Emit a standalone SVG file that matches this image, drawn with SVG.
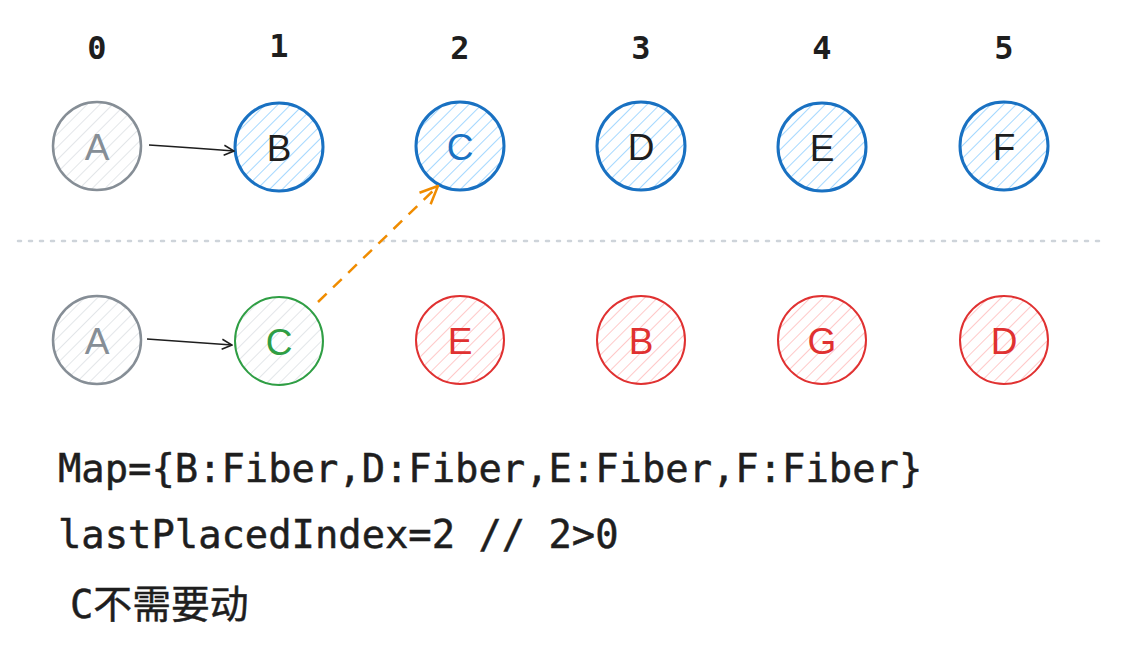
<svg xmlns="http://www.w3.org/2000/svg" width="1122" height="647" viewBox="0 0 1122 647">
<defs>
<pattern id="hb" patternUnits="userSpaceOnUse" width="9" height="9" patternTransform="rotate(45)"><line x1="0" y1="0" x2="0" y2="9" stroke="#a5d8ff" stroke-width="2"/></pattern>
<pattern id="hr" patternUnits="userSpaceOnUse" width="9" height="9" patternTransform="rotate(45)"><line x1="0" y1="0" x2="0" y2="9" stroke="#ffc9c9" stroke-width="2"/></pattern>
<pattern id="hg" patternUnits="userSpaceOnUse" width="9" height="9" patternTransform="rotate(45)"><line x1="0" y1="0" x2="0" y2="9" stroke="#e3e6e9" stroke-width="2"/></pattern>
<marker id="ab" viewBox="0 0 12 12" refX="11" refY="6" markerWidth="12" markerHeight="12" markerUnits="userSpaceOnUse" orient="auto"><path d="M1,1 L11,6 L1,11" fill="none" stroke="#1e1e1e" stroke-width="1.5"/></marker>
<marker id="ao" viewBox="0 0 20 20" refX="19" refY="10" markerWidth="20" markerHeight="20" markerUnits="userSpaceOnUse" orient="auto"><path d="M1,2 L19,10 L1,18" fill="none" stroke="#f08c00" stroke-width="2.5"/></marker>
</defs>
<style>
.idx{font-family:"DejaVu Sans Mono",monospace;font-weight:bold;font-size:32px;fill:#1e1e1e;text-anchor:middle}
.lbl{font-family:"Liberation Sans",Arial,sans-serif;font-size:37px;text-anchor:middle}
.code{font-family:"DejaVu Sans Mono","Noto Sans CJK SC",monospace;font-size:38.8px;fill:#1e1e1e;stroke:#1e1e1e;stroke-width:0.5}
.blue{fill:url(#hb);stroke:#1971c2;stroke-width:3}
.red{fill:url(#hr);stroke:#e03131;stroke-width:2}
.gray{fill:url(#hg);stroke:#868e96;stroke-width:2.5}
.green{fill:url(#hg);stroke:#2f9e44;stroke-width:2}
</style>
<rect width="1122" height="647" fill="#ffffff"/>
<g id="indices">
<text class="idx" x="97" y="59">0</text>
<text class="idx" x="279" y="57">1</text>
<text class="idx" x="460" y="59">2</text>
<text class="idx" x="641" y="59">3</text>
<text class="idx" x="822" y="59">4</text>
<text class="idx" x="1004" y="59">5</text>
</g>
<line x1="18" y1="241" x2="1100" y2="241" stroke="#ced4da" stroke-width="2.5" stroke-dasharray="3 8" stroke-linecap="round"/>
<g id="top-A"><circle class="gray" cx="97" cy="146" r="44"/><text class="lbl" x="97" y="160" fill="#868e96">A</text></g>
<g id="top-B"><circle class="blue" cx="279" cy="147" r="44"/><text class="lbl" x="279" y="161" fill="#1e1e1e">B</text></g>
<g id="top-C"><circle class="blue" cx="460" cy="146" r="44"/><text class="lbl" x="460" y="160" fill="#1971c2">C</text></g>
<g id="top-D"><circle class="blue" cx="641" cy="146" r="44"/><text class="lbl" x="641" y="160" fill="#1e1e1e">D</text></g>
<g id="top-E"><circle class="blue" cx="822" cy="147" r="44"/><text class="lbl" x="822" y="161" fill="#1e1e1e">E</text></g>
<g id="top-F"><circle class="blue" cx="1004" cy="146" r="44"/><text class="lbl" x="1004" y="160" fill="#1e1e1e">F</text></g>
<g id="bot-A"><circle class="gray" cx="97" cy="340" r="44"/><text class="lbl" x="97" y="354" fill="#868e96">A</text></g>
<g id="bot-C"><circle class="green" cx="279" cy="341" r="44"/><text class="lbl" x="279" y="355" fill="#2f9e44">C</text></g>
<g id="bot-E"><circle class="red" cx="460" cy="340" r="44"/><text class="lbl" x="460" y="354" fill="#e03131">E</text></g>
<g id="bot-B"><circle class="red" cx="641" cy="340" r="44"/><text class="lbl" x="641" y="354" fill="#e03131">B</text></g>
<g id="bot-G"><circle class="red" cx="822" cy="340" r="44"/><text class="lbl" x="822" y="354" fill="#e03131">G</text></g>
<g id="bot-D"><circle class="red" cx="1004" cy="340" r="44"/><text class="lbl" x="1004" y="354" fill="#e03131">D</text></g>
<g id="connectors">
<path d="M149,145 Q195,148 234,151" fill="none" stroke="#1e1e1e" stroke-width="1.6" marker-end="url(#ab)"/>
<path d="M147,339 Q192,342 232,345" fill="none" stroke="#1e1e1e" stroke-width="1.6" marker-end="url(#ab)"/>
<path d="M318,302 L438,186" fill="none" stroke="#f08c00" stroke-width="2.5" stroke-dasharray="12 9" marker-end="url(#ao)"/>
</g>
<g id="notes">
<text class="code" x="58" y="482">Map={B:Fiber,D:Fiber,E:Fiber,F:Fiber}</text>
<text class="code" x="58" y="548">lastPlacedIndex=2 // 2&gt;0</text>
<text class="code" x="70" y="618">C不需要动</text>
</g>
</svg>
